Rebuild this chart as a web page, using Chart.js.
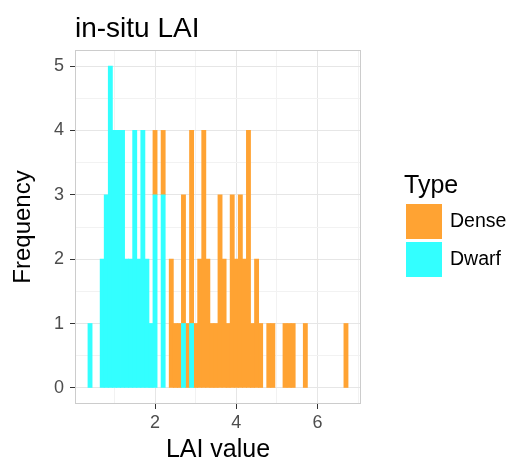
<!DOCTYPE html>
<html>
<head>
<meta charset="utf-8">
<script src="https://cdn.jsdelivr.net/npm/chart.js@4.4.1/dist/chart.umd.min.js"></script>
<style>
  html, body { margin: 0; padding: 0; background: #fff; }
  canvas { display: block; }
</style>
</head>
<body>
<canvas id="histChart" width="510" height="461"></canvas>
<script>
// bin centres (binwidth 0.1)
const binCenters = [
  0.4, 0.5, 0.6, 0.7, 0.8, 0.9, 1.0, 1.1, 1.2, 1.3, 1.4, 1.5, 1.6, 1.7, 1.8, 1.9,
  2.0, 2.1, 2.2, 2.3, 2.4, 2.5, 2.6, 2.7, 2.8, 2.9, 3.0, 3.1, 3.2, 3.3, 3.4, 3.5,
  3.6, 3.7, 3.8, 3.9, 4.0, 4.1, 4.2, 4.3, 4.4, 4.5, 4.6, 4.7, 4.8, 4.9, 5.0, 5.1,
  5.2, 5.3, 5.4, 5.5, 5.6, 5.7, 5.8, 5.9, 6.0, 6.1, 6.2, 6.3, 6.4, 6.5, 6.6, 6.7
];
const dwarfCounts = [
  1, 0, 0, 2, 3, 5, 4, 4, 4, 2, 2, 4, 2, 4, 2, 1,
  3, 0, 3, 0, 0, 0, 0, 1, 0, 1, 0, 0, 0, 0, 0, 0,
  0, 0, 0, 0, 0, 0, 0, 0, 0, 0, 0, 0, 0, 0, 0, 0,
  0, 0, 0, 0, 0, 0, 0, 0, 0, 0, 0, 0, 0, 0, 0, 0
];
const denseCounts = [
  0, 0, 0, 0, 0, 0, 0, 0, 0, 0, 0, 0, 0, 0, 0, 0,
  1, 0, 1, 0, 2, 1, 1, 2, 1, 3, 1, 2, 4, 2, 1, 1,
  3, 2, 1, 3, 2, 3, 2, 4, 1, 2, 1, 0, 1, 1, 0, 0,
  1, 1, 1, 0, 0, 1, 0, 0, 0, 0, 0, 0, 0, 0, 0, 1
];
const xGrid = [1, 2, 3, 4, 5, 6, 7];
const xLabels = [2, 4, 6];
const yGrid = [0, 0.5, 1, 1.5, 2, 2.5, 3, 3.5, 4, 4.5, 5];
const yLabels = [0, 1, 2, 3, 4, 5];
const typeNames = ['Dense', 'Dwarf'];
const typeColors = ['#FFA333', '#33FFFF'];

const FONT = "'Liberation Sans', Arial, sans-serif";
Chart.defaults.font.family = FONT;

const toPoints = counts => binCenters.map((x, i) => ({x: x, y: counts[i]}));

const panelPlugin = {
  id: 'panelPlugin',
  afterDatasetsDraw(chart) {
    const {ctx, chartArea: a} = chart;
    ctx.save();
    ctx.strokeStyle = '#CCCCCC';
    ctx.lineWidth = 1;
    ctx.strokeRect(a.left + 0.5, a.top + 0.5, a.right - a.left - 1, a.bottom - a.top - 1);
    ctx.restore();
  },
  afterDraw(chart) {
    const ctx = chart.ctx;
    ctx.save();
    ctx.fillStyle = '#000';
    ctx.textBaseline = 'alphabetic';
    ctx.font = '28px ' + FONT;
    ctx.fillText('in-situ LAI', 75, 37);

    // legend
    ctx.font = '25px ' + FONT;
    ctx.fillText('Type', 404, 193);
    ctx.font = '19.5px ' + FONT;
    ctx.textBaseline = 'middle';
    typeNames.forEach((name, i) => {
      const y = 204 + i * 38;
      ctx.fillStyle = typeColors[i];
      ctx.fillRect(406, y, 36, 35);
      ctx.fillStyle = '#000';
      ctx.fillText(name, 450, y + 18);
    });
    ctx.restore();
  }
};

const barStyle = {
  borderWidth: 0,
  // small overlap closes seams, but empty bins stay empty
  inflateAmount: c => (c.raw && c.raw.y > 0) ? 0.4 : 0,
  categoryPercentage: 1,
  barPercentage: 1
};

new Chart(document.getElementById('histChart'), {
  type: 'bar',
  data: {
    datasets: [
      Object.assign({ label: 'Dwarf', data: toPoints(dwarfCounts), backgroundColor: typeColors[1] }, barStyle),
      Object.assign({ label: 'Dense', data: toPoints(denseCounts), backgroundColor: typeColors[0] }, barStyle)
    ]
  },
  options: {
    responsive: false,
    devicePixelRatio: 1,
    animation: false,
    layout: { padding: { left: 0, top: 50, right: 149, bottom: 0 } },
    plugins: { legend: { display: false }, tooltip: { enabled: false } },
    scales: {
      x: {
        type: 'linear',
        stacked: true,
        offset: false,
        min: 0.03,
        max: 7.07,
        afterFit: s => { s.height = 57; },
        afterBuildTicks: s => { s.ticks = xGrid.map(v => ({value: v})); },
        ticks: {
          autoSkip: false,
          maxRotation: 0,
          padding: 3,
          color: '#4D4D4D',
          font: { size: 18 },
          callback: v => xLabels.includes(v) ? String(v) : ''
        },
        grid: {
          offset: false,
          color: c => xLabels.includes(c.tick.value) ? '#E6E6E6' : '#F2F2F2',
          tickColor: c => xLabels.includes(c.tick.value) ? '#333333' : 'rgba(0,0,0,0)',
          tickLength: 5
        },
        border: { display: false },
        title: {
          display: true,
          text: 'LAI value',
          color: '#000',
          font: { size: 25, lineHeight: 1 },
          padding: { top: 0, bottom: -2 }
        }
      },
      y: {
        stacked: true,
        min: -0.25,
        max: 5.25,
        afterFit: s => { s.width = 75; },
        afterBuildTicks: s => { s.ticks = yGrid.map(v => ({value: v})); },
        ticks: {
          autoSkip: false,
          padding: 6,
          color: '#4D4D4D',
          font: { size: 18 },
          callback: v => yLabels.includes(v) ? String(v) : ''
        },
        grid: {
          color: c => yLabels.includes(c.tick.value) ? '#E6E6E6' : '#F2F2F2',
          tickColor: c => yLabels.includes(c.tick.value) ? '#333333' : 'rgba(0,0,0,0)',
          tickLength: 5
        },
        border: { display: false },
        title: {
          display: true,
          text: 'Frequency',
          color: '#000',
          font: { size: 24 },
          padding: { top: 9, bottom: 0 }
        }
      }
    }
  },
  plugins: [panelPlugin]
});
</script>
</body>
</html>
